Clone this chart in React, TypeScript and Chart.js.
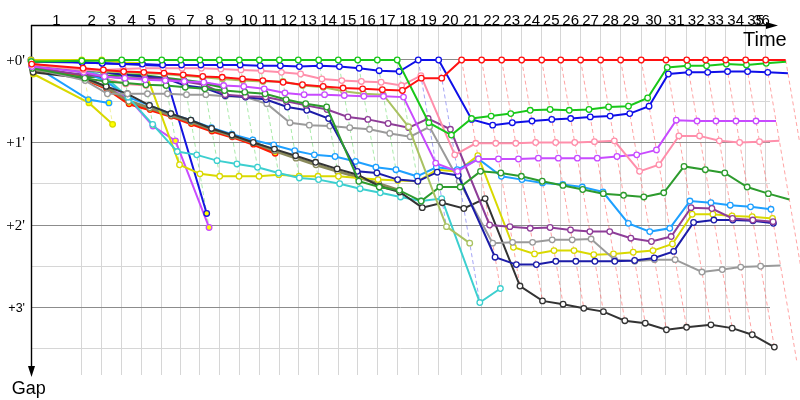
import React, { useEffect, useRef } from "react";
import { Chart, registerables } from "chart.js";

Chart.register(...registerables);

// Leader's elapsed race time (minutes) at the end of each lap (index 0 = start)
const lapTimes = [
  0, 3.62, 5.05, 6.48, 7.91, 9.34, 10.69, 12.07, 13.45, 14.88, 16.31, 17.74, 19.09,
  20.55, 21.95, 23.34, 24.74, 26.16, 27.66, 29.12, 30.76, 32.19, 33.62, 35.05, 36.48,
  37.84, 39.26, 40.69, 42.12, 43.59, 45.36, 46.84, 48.19, 49.62, 51.05, 52.48, 53.91,
];
const lapNumbers = [
  "1", "2", "3", "4", "5", "6", "7", "8", "9", "10", "11", "12", "13", "14", "15", "16", "17", "18",
  "19", "20", "21", "22", "23", "24", "25", "26", "27", "28", "29", "30", "31", "32", "33", "34", "35", "36",
];
const gapTickValues = [0, 1, 2, 3];
const gapTickLabels = ["+0'", "+1'", "+2'", "+3'"];
const gapGridValues = [0, 0.5, 1, 1.5, 2, 2.5, 3, 3.5];
const timeMax = 52.79;
const gapMin = -0.424;
const gapMax = 3.818;

// Gap to leader (minutes) per lap, starting at lap 0
const gapRed = [0.05, 0.1, 0.12, 0.14, 0.15, 0.16, 0.18, 0.2, 0.21, 0.23, 0.25, 0.27, 0.3, 0.32, 0.34, 0.35, 0.36, 0.37, 0.22, 0.22, 0, 0, 0, 0, 0, 0, 0, 0, 0, 0, 0, 0, 0, 0, 0, 0, 0];
const gapGreen = [0.02, 0.01, 0.01, 0, 0, 0, 0, 0, 0, 0, 0, 0, 0, 0, 0, 0, 0, 0, 0.76, 0.91, 0.71, 0.68, 0.65, 0.61, 0.6, 0.61, 0.6, 0.57, 0.56, 0.46, 0.09, 0.07, 0.07, 0.05, 0.06, 0.04, 0.02];
const gapBlue = [0.02, 0.03, 0.04, 0.05, 0.05, 0.06, 0.06, 0.06, 0.06, 0.06, 0.07, 0.07, 0.08, 0.07, 0.08, 0.1, 0.13, 0.14, 0, 0, 0.72, 0.79, 0.76, 0.74, 0.72, 0.71, 0.69, 0.68, 0.65, 0.56, 0.17, 0.15, 0.15, 0.14, 0.14, 0.15, 0.16];
const gapPink = [0.05, 0.12, 0.12, 0.11, 0.1, 0.1, 0.1, 0.1, 0.11, 0.12, 0.13, 0.15, 0.17, 0.23, 0.25, 0.26, 0.27, 0.31, 0.19, 1.15, 1.01, 1.01, 1.01, 1.0, 1.0, 1.0, 0.99, 0.98, 1.35, 1.27, 0.92, 0.92, 0.98, 1.0, 0.99, 0.98, 0.97];
const gapViolet = [0.08, 0.15, 0.2, 0.22, 0.24, 0.25, 0.26, 0.27, 0.31, 0.32, 0.35, 0.4, 0.42, 0.42, 0.43, 0.44, 0.44, 0.45, 1.25, 1.35, 1.2, 1.2, 1.2, 1.19, 1.19, 1.19, 1.19, 1.17, 1.15, 1.09, 0.73, 0.74, 0.74, 0.74, 0.74, 0.74, 0.74];
const gapKhaki = [0.06, 0.12, 0.14, 0.15, 0.16, 0.17, 0.19, 0.21, 0.23, 0.25, 0.26, 0.26, 0.31, 0.33, 0.38, 0.41, 0.42, 0.81, 2.02, 2.22];
const gapDarkGreen = [0.1, 0.22, 0.26, 0.28, 0.3, 0.31, 0.33, 0.35, 0.37, 0.39, 0.41, 0.48, 0.53, 0.57, 1.47, 1.54, 1.58, 1.71, 1.54, 1.54, 1.35, 1.37, 1.41, 1.47, 1.52, 1.57, 1.62, 1.64, 1.66, 1.61, 1.29, 1.33, 1.37, 1.54, 1.62, 1.69];
const gapPurple = [0.1, 0.18, 0.2, 0.22, 0.22, 0.23, 0.26, 0.3, 0.42, 0.44, 0.45, 0.5, 0.55, 0.6, 0.69, 0.72, 0.77, 0.82, 0.71, 0.84, 2.0, 2.02, 2.04, 2.03, 2.06, 2.08, 2.08, 2.16, 2.2, 2.14, 1.79, 1.8, 1.92, 1.94, 1.96, 2.0];
const gapNavy = [0.08, 0.12, 0.15, 0.18, 0.2, 0.22, 0.31, 0.34, 0.43, 0.45, 0.48, 0.57, 0.61, 0.71, 1.35, 1.37, 1.45, 1.47, 1.36, 1.4, 2.39, 2.48, 2.48, 2.44, 2.44, 2.44, 2.44, 2.43, 2.4, 2.32, 1.97, 1.94, 1.94, 1.95, 1.98, 2.15];
const gapGray = [0.1, 0.25, 0.41, 0.41, 0.41, 0.41, 0.42, 0.42, 0.44, 0.45, 0.53, 0.76, 0.79, 0.8, 0.82, 0.84, 0.89, 0.93, 0.81, 1.47, 2.22, 2.21, 2.21, 2.18, 2.18, 2.17, 2.42, 2.44, 2.42, 2.42, 2.57, 2.54, 2.51, 2.5, 2.49, 2.54];
const gapBlack = [0.15, 0.22, 0.32, 0.41, 0.55, 0.65, 0.73, 0.83, 0.91, 1.0, 1.08, 1.16, 1.24, 1.32, 1.39, 1.53, 1.6, 1.79, 1.73, 1.8, 1.68, 2.74, 2.92, 2.96, 3.01, 3.05, 3.16, 3.19, 3.27, 3.24, 3.21, 3.25, 3.33, 3.48, 3.64];
const gapCyan = [0.05, 0.12, 0.2, 0.45, 0.78, 1.11, 1.15, 1.22, 1.26, 1.3, 1.37, 1.43, 1.45, 1.5, 1.56, 1.61, 1.66, 1.71, 1.68, 2.94, 2.77];
const gapSky = [0.06, 0.15, 0.25, 0.45, 0.55, 0.65, 0.73, 0.82, 0.9, 0.97, 1.03, 1.1, 1.15, 1.17, 1.23, 1.3, 1.33, 1.41, 1.3, 1.33, 1.2, 1.41, 1.45, 1.49, 1.51, 1.54, 1.6, 1.98, 2.08, 2.04, 1.71, 1.73, 1.76, 1.78, 1.81, 1.84];
const gapYellow = [0, 0, 0, 0.03, 0.04, 1.27, 1.38, 1.41, 1.41, 1.41, 1.39, 1.41, 1.41, 1.41, 1.43, 1.45, 1.46, 1.47, 1.33, 1.35, 1.16, 2.27, 2.35, 2.31, 2.31, 2.36, 2.35, 2.33, 2.31, 2.23, 1.87, 1.87, 1.89, 1.9, 1.92, 1.93];
const gapOlive = [0.12, 0.22, 0.33, 0.5, 0.58, 0.67, 0.75, 0.84, 0.92, 1.0, 1.1, 1.19, 1.27, 1.35, 1.42, 1.5, 1.58];
const gapRedOut = [0.07, 0.23, 0.34, 0.53, 0.6, 0.68, 0.77, 0.86, 0.93, 1.02, 1.13];
const gapGreenOut = [0.1, 0.2, 0.2, 0.18, 0.19, 0.22, 0.25, 0.28, 0.33];
const gapBlueOut = [0, 0.03, 0.04, 0.05, 0.06, 0.07, 1.86];
const gapVioletOut = [0.08, 0.2, 0.33, 0.46, 0.8, 0.98, 2.03];
const gapPinkOut = [0.05, 0.15, 0.22, 0.29, 0.31];
const gapSkyOut = [0.05, 0.48, 0.52];
const gapYellowOut = [0.17, 0.52, 0.78];

const WHITE = "#ffffff";
const YELLOW_FILL = "#ffff00";

type Driver = { name: string; color: string; fill: string; width: number; gaps: number[] };

const drivers: Driver[] = [
  { name: "Red", color: "#ff1111", fill: WHITE, width: 2, gaps: gapRed },
  { name: "Green", color: "#19c719", fill: WHITE, width: 2, gaps: gapGreen },
  { name: "Blue", color: "#0f0fe8", fill: WHITE, width: 2, gaps: gapBlue },
  { name: "Pink", color: "#ff8fab", fill: WHITE, width: 2, gaps: gapPink },
  { name: "Violet", color: "#c84bff", fill: WHITE, width: 2, gaps: gapViolet },
  { name: "Khaki", color: "#a9c262", fill: WHITE, width: 2, gaps: gapKhaki },
  { name: "DarkGreen", color: "#2d9b2d", fill: WHITE, width: 2, gaps: gapDarkGreen },
  { name: "Purple", color: "#8e3d98", fill: WHITE, width: 2, gaps: gapPurple },
  { name: "Navy", color: "#1c1ca8", fill: WHITE, width: 2, gaps: gapNavy },
  { name: "Gray", color: "#9a9a9a", fill: WHITE, width: 2, gaps: gapGray },
  { name: "Black", color: "#333333", fill: WHITE, width: 2, gaps: gapBlack },
  { name: "Cyan", color: "#3ccfcf", fill: WHITE, width: 2, gaps: gapCyan },
  { name: "Sky", color: "#1ea0ff", fill: WHITE, width: 2, gaps: gapSky },
  { name: "Yellow", color: "#d9d900", fill: WHITE, width: 2, gaps: gapYellow },
  { name: "Olive", color: "#8a8a5c", fill: WHITE, width: 3, gaps: gapOlive },
  { name: "RedOut", color: "#ff1a00", fill: YELLOW_FILL, width: 3.5, gaps: gapRedOut },
  { name: "GreenOut", color: "#2a9a2a", fill: YELLOW_FILL, width: 3, gaps: gapGreenOut },
  { name: "BlueOut", color: "#1414e0", fill: YELLOW_FILL, width: 2, gaps: gapBlueOut },
  { name: "VioletOut", color: "#c84bff", fill: YELLOW_FILL, width: 2, gaps: gapVioletOut },
  { name: "PinkOut", color: "#ff8fab", fill: YELLOW_FILL, width: 2, gaps: gapPinkOut },
  { name: "SkyOut", color: "#1ea0ff", fill: YELLOW_FILL, width: 2, gaps: gapSkyOut },
  { name: "YellowOut", color: "#d9d900", fill: YELLOW_FILL, width: 2, gaps: gapYellowOut },
];

function rgba(hex: string, a: number) {
  const n = parseInt(hex.slice(1), 16);
  return `rgba(${(n >> 16) & 255},${(n >> 8) & 255},${n & 255},${a})`;
}

function buildDatasets() {
  const driverSets = drivers.map((d) => ({
    label: d.name,
    data: d.gaps.map((g, k) => ({ x: lapTimes[k] + g, y: g })),
    showLine: true,
    borderColor: d.color,
    backgroundColor: d.color,
    pointBackgroundColor: d.fill,
    pointBorderColor: d.color,
    pointRadius: 2.8,
    pointBorderWidth: 1.3,
    borderWidth: d.width,
    tension: 0,
    clip: false as any,
    order: 1,
  }));
  const lapSets: any[] = [];
  for (let k = 1; k < lapTimes.length; k++) {
    let maxGap = -1;
    let leader: Driver | null = null;
    let minGap = Infinity;
    drivers.forEach((d) => {
      if (d.gaps.length > k) {
        const g = d.gaps[k];
        if (g > maxGap) maxGap = g;
        if (g < minGap) {
          minGap = g;
          leader = d;
        }
      }
    });
    if (!leader || maxGap <= 0) continue;
    lapSets.push({
      label: "lap" + k,
      data: [
        { x: lapTimes[k] + minGap, y: minGap },
        { x: lapTimes[k] + maxGap, y: maxGap },
      ],
      showLine: true,
      borderColor: rgba((leader as Driver).color, 0.38),
      borderWidth: 1,
      borderDash: [4, 3],
      pointRadius: 0,
      clip: false as any,
      order: 5,
    });
  }
  return [...driverSets, ...lapSets];
}

const decorations = {
  id: "decorations",
  beforeDatasetsDraw(chart: any) {
    const { ctx, chartArea: a, scales } = chart;
    const xs = scales.x;
    const ys = scales.y;
    ctx.save();
    ctx.strokeStyle = "#000";
    ctx.fillStyle = "#000";
    ctx.lineWidth = 1.4;
    // time axis (top)
    ctx.beginPath();
    ctx.moveTo(a.left, a.top + 0.5);
    ctx.lineTo(a.right + 2, a.top + 0.5);
    ctx.stroke();
    ctx.beginPath();
    ctx.moveTo(a.right + 8, a.top + 0.5);
    ctx.lineTo(a.right - 4, a.top - 3);
    ctx.lineTo(a.right - 4, a.top + 4);
    ctx.closePath();
    ctx.fill();
    // gap axis (left)
    ctx.beginPath();
    ctx.moveTo(a.left + 0.5, a.top);
    ctx.lineTo(a.left + 0.5, a.bottom - 6);
    ctx.stroke();
    ctx.beginPath();
    ctx.moveTo(a.left + 0.5, a.bottom + 2);
    ctx.lineTo(a.left - 3, a.bottom - 9);
    ctx.lineTo(a.left + 4, a.bottom - 9);
    ctx.closePath();
    ctx.fill();
    // lap numbers
    ctx.font = '15px "Liberation Sans", Arial, sans-serif';
    ctx.textAlign = "center";
    ctx.textBaseline = "alphabetic";
    lapNumbers.forEach((lbl, i) => {
      const mid = Math.min((lapTimes[i] + lapTimes[i + 1]) / 2, timeMax - 0.6);
      ctx.fillText(lbl, xs.getPixelForValue(mid), a.top - 0.5);
    });
    // gap labels
    ctx.textAlign = "right";
    gapTickValues.forEach((v, i) => {
      const sans = v === 3;
      ctx.font = sans ? '12.5px "Liberation Sans", Arial, sans-serif' : '15px "Liberation Serif", "Times New Roman", serif';
      ctx.fillText(gapTickLabels[i], a.left - 6, ys.getPixelForValue(v) + (sans ? 4.5 : 5));
    });
    // axis titles
    ctx.textAlign = "left";
    ctx.font = '20px "Liberation Sans", Arial, sans-serif';
    ctx.fillText("Time", a.right - 27, a.top + 20.5);
    ctx.font = '18px "Liberation Sans", Arial, sans-serif';
    ctx.fillText("Gap", a.left - 19.3, a.bottom + 18.5);
    ctx.restore();
  },
};

export default function App() {
  const ref = useRef<HTMLCanvasElement>(null);
  useEffect(() => {
    if (!ref.current) return;
    const chart = new Chart(ref.current, {
      type: "scatter",
      data: { datasets: buildDatasets() as any },
      options: {
        animation: false,
        responsive: true,
        maintainAspectRatio: false,
        devicePixelRatio: 1,
        events: [],
        layout: { padding: { left: 0, right: 30, top: 0, bottom: 25 } },
        plugins: { legend: { display: false }, tooltip: { enabled: false } },
        scales: {
          x: {
            type: "linear",
            position: "top",
            min: 0,
            max: timeMax,
            afterBuildTicks: (s: any) => {
              s.ticks = lapTimes.slice(1).filter((t) => t <= timeMax).map((v) => ({ value: v }));
            },
            afterFit: (s: any) => {
              s.height = 25;
            },
            ticks: { display: false },
            grid: { color: "#d6d6d6", lineWidth: 1, drawTicks: false },
            border: { display: false },
          },
          y: {
            type: "linear",
            reverse: true,
            min: gapMin,
            max: gapMax,
            afterBuildTicks: (s: any) => {
              s.ticks = gapGridValues.map((v) => ({ value: v }));
            },
            afterFit: (s: any) => {
              s.width = 31;
            },
            ticks: { display: false },
            grid: {
              color: (c: any) => (c.tick && Number.isInteger(c.tick.value) ? "#8c8c8c" : "#d6d6d6"),
              lineWidth: 1,
              drawTicks: false,
            },
            border: { display: false },
          },
        },
      } as any,
      plugins: [decorations],
    });
    return () => chart.destroy();
  }, []);
  return (
    <div style={{ position: "absolute", left: 0, top: 0, width: 800, height: 400, background: "#fff" }}>
      <canvas ref={ref} />
    </div>
  );
}
